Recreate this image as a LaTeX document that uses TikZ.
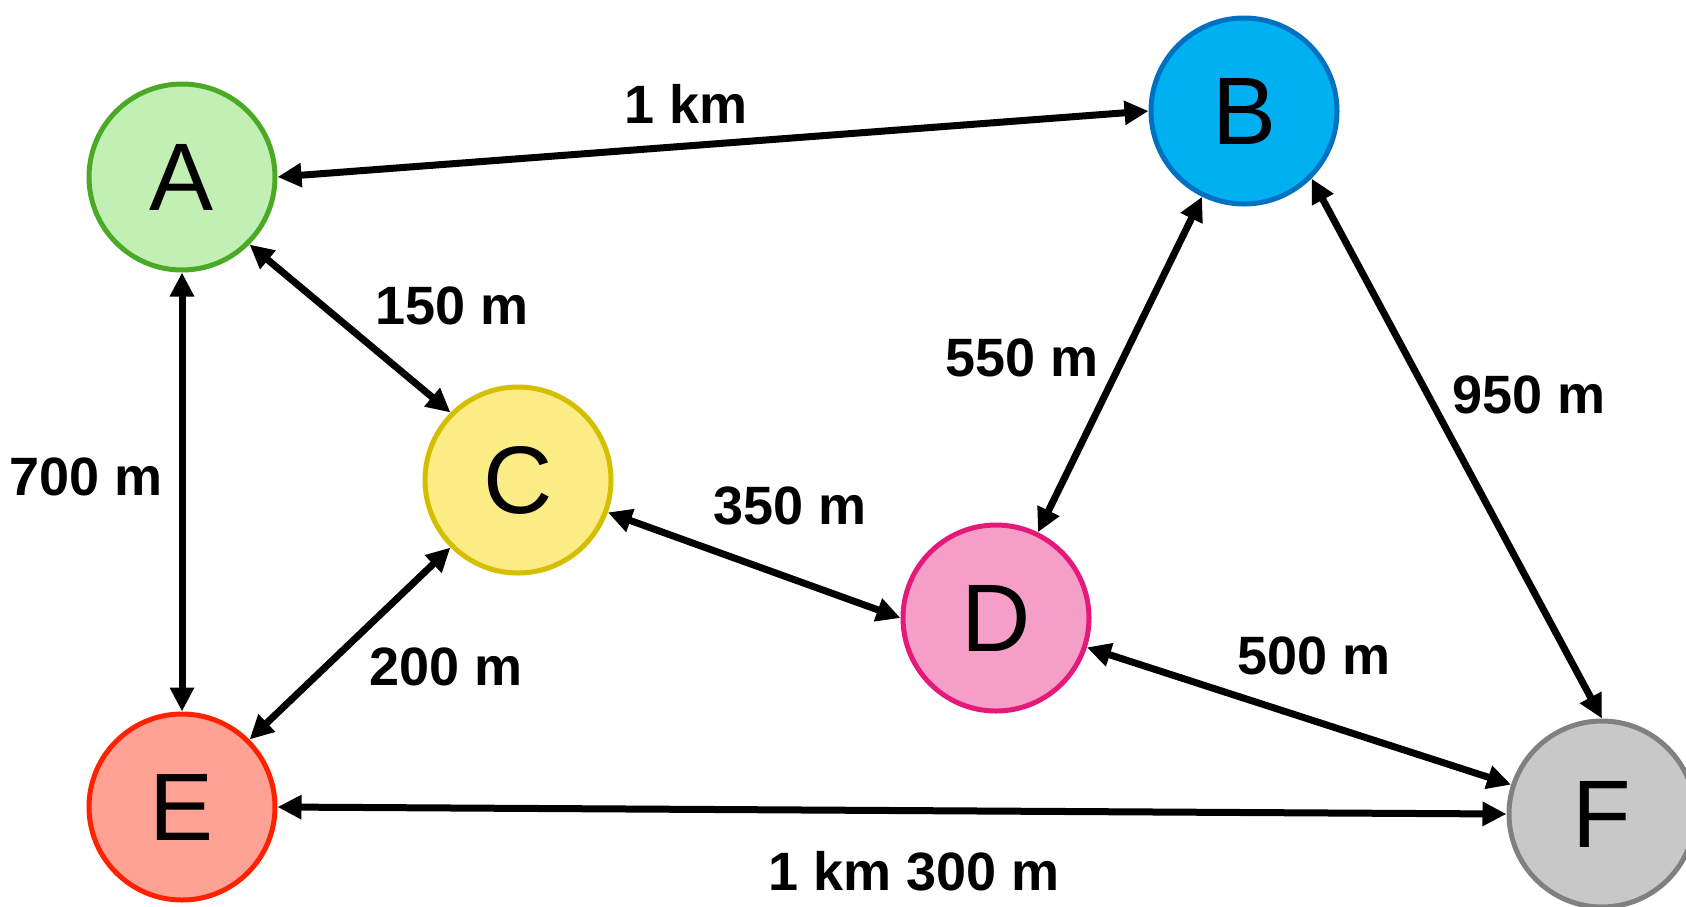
\documentclass[tikz,border=0pt]{standalone}
\usepackage{fontspec}
\setmainfont{Liberation Sans}
\usetikzlibrary{arrows.meta}

\definecolor{fillA}{HTML}{C2EFB3}\definecolor{lineA}{HTML}{4AAA25}
\definecolor{fillB}{HTML}{00B0F0}\definecolor{lineB}{HTML}{0070C0}
\definecolor{fillC}{HTML}{FBEC86}\definecolor{lineC}{HTML}{D4BE00}
\definecolor{fillD}{HTML}{F59FC8}\definecolor{lineD}{HTML}{E5197A}
\definecolor{fillE}{HTML}{FFA194}\definecolor{lineE}{HTML}{FF2200}
\definecolor{fillF}{HTML}{C8C8C8}\definecolor{lineF}{HTML}{808080}

\begin{document}
\begin{tikzpicture}[x=1pt,y=-1pt,
   city/.style={circle,draw,line width=5pt,minimum size=186pt,inner sep=0pt,
     font=\fontsize{96}{96}\selectfont},
   dist/.style={font=\bfseries\fontsize{54}{54}\selectfont},
   road/.style={{Triangle[length=24pt,width=23pt]}-{Triangle[length=24pt,width=23pt]},line width=7pt}]
  \clip (0,0) rectangle (1686,906);
  \node[city,fill=fillA,draw=lineA] (a) at (182,177) {A};
  \node[city,fill=fillB,draw=lineB] (b) at (1244,111) {B};
  \node[city,fill=fillC,draw=lineC] (c) at (518,480) {C};
  \node[city,fill=fillD,draw=lineD] (d) at (996,618) {D};
  \node[city,fill=fillE,draw=lineE] (e) at (182,807) {E};
  \node[city,fill=fillF,draw=lineF] (f) at (1602,814) {F};
  \draw[road] (a.east)--(b.west);
  \draw[road] (a.south east)--(c.north west);
  \draw[road] (a.south)--(e.north);
  \draw[road] (b)--(d);
  \draw[road] (b.south east)--(f.north);
  \draw[road] (c)--(d.west);
  \draw[road] (c.south west)--(e.north east);
  \draw[road] (d)--(f);
  \draw[road] (e.east)--(f.west);
  \node[dist] (ab) at (686,104) {1 km};
  \node[dist] (ac) at (452,306) {150 m};
  \node[dist] (ae) at (86,477) {700 m};
  \node[dist] (bd) at (1022,358) {550 m};
  \node[dist] (bf) at (1529,395) {950 m};
  \node[dist] (cd) at (790,506) {350 m};
  \node[dist] (df) at (1314,656) {500 m};
  \node[dist] (ce) at (446,667) {200 m};
  \node[dist] (ef) at (914,871) {1 km 300 m};
\end{tikzpicture}
\end{document}
